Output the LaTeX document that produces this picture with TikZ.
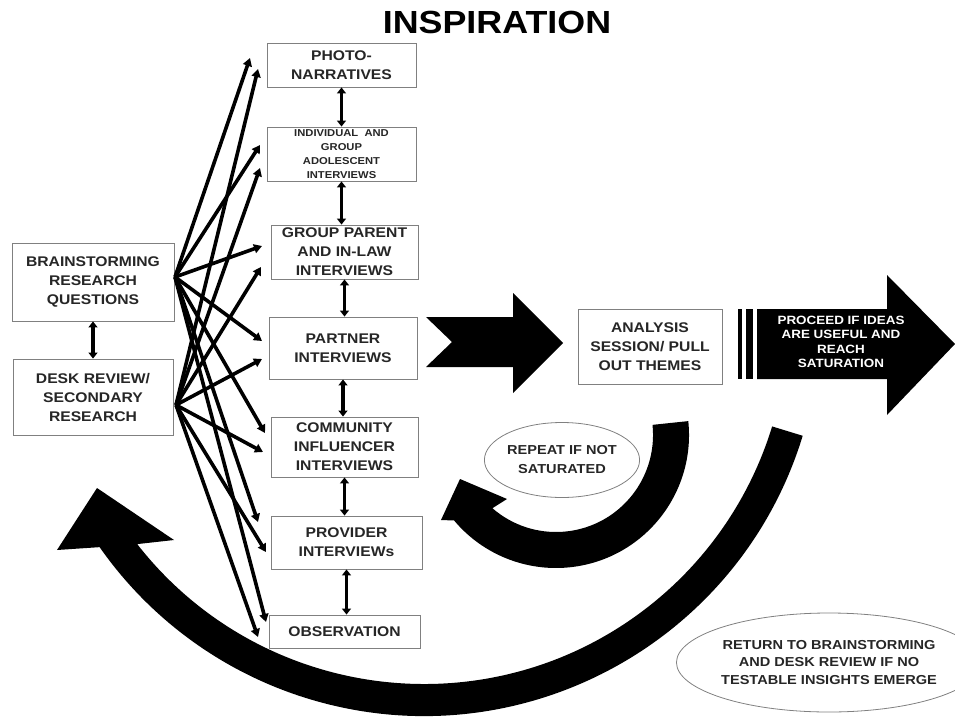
\documentclass[tikz,border=0pt]{standalone}
\usepackage{fontspec}
\setmainfont{Liberation Sans}[FakeStretch=1.12]
\usetikzlibrary{arrows.meta,shapes.geometric}
\begin{document}
\begin{tikzpicture}[x=1pt,y=-1pt,
  box/.style={draw=black!50, line width=0.9pt, fill=white, align=center, inner sep=0pt,
    text=black!85, font=\bfseries\fontsize{14}{19}\selectfont},
  fan/.style={line width=3.6pt, -{Triangle[length=8pt,width=9pt]}},
  dbl/.style={line width=3.4pt, {Triangle[length=6pt,width=9pt]}-{Triangle[length=6pt,width=9pt]}},
  oval/.style={ellipse, draw=black!50, line width=0.8pt, inner sep=0pt, align=center,
    text=black!85, font=\bfseries\fontsize{13}{19}\selectfont}
]
\useasboundingbox (0,0) rectangle (955,717);

% big return arc
\fill[black] (424,320) ++(17:396) arc[start angle=17, end angle=145, radius=396]
  -- (57,550) -- (97,488) -- (174,540) -- (137.2,544.1)
  arc[start angle=142, end angle=17, radius=364] -- cycle;

% small repeat arc
\fill[black] (556,435) ++(-6:133) arc[start angle=-6, end angle=140, radius=133]
  -- (441,520) -- (460,479) -- (507,499) -- (492.4,508.2)
  arc[start angle=131, end angle=-6, radius=97] -- cycle;

% title
\node[font=\bfseries\fontsize{32}{32}\selectfont] (title) at (497,22) {INSPIRATION};

% left boxes
\node[box, minimum width=162pt, minimum height=78pt] (brain) at (93,282) {BRAINSTORMING\\RESEARCH\\QUESTIONS};
\node[box, minimum width=160pt, minimum height=76pt] (desk) at (93,397) {DESK REVIEW/\\SECONDARY\\RESEARCH};

% middle column
\node[box, minimum width=149pt, minimum height=44pt] (photo) at (341.5,65) {PHOTO-\\NARRATIVES};
\node[box, minimum width=149pt, minimum height=54pt, font=\bfseries\fontsize{10}{14}\selectfont] (indiv) at (341.5,154) {INDIVIDUAL\ \ AND\\GROUP\\ADOLESCENT\\INTERVIEWS};
\node[box, minimum width=147pt, minimum height=54pt] (group) at (344.5,252) {GROUP PARENT\\AND IN-LAW\\INTERVIEWS};
\node[box, minimum width=148pt, minimum height=62pt] (partner) at (343,348) {PARTNER\\INTERVIEWS};
\node[box, minimum width=147pt, minimum height=60pt] (comm) at (344.5,447) {COMMUNITY\\INFLUENCER\\INTERVIEWS};
\node[box, minimum width=151pt, minimum height=53pt] (prov) at (346.5,542.5) {PROVIDER\\INTERVIEWs};
\node[box, minimum width=151pt, minimum height=33pt] (obs) at (344.5,631.5) {OBSERVATION};

% analysis box
\node[box, minimum width=144pt, minimum height=75pt] (anal) at (650,346.5) {ANALYSIS\\SESSION/ PULL\\OUT THEMES};

% double arrows
\draw[dbl] (brain.south) -- (desk.north);
\draw[dbl] (photo.south) -- (photo.south |- indiv.north);
\draw[dbl] (indiv.south) -- (indiv.south |- group.north);
\draw[dbl] (group.south) -- (group.south |- partner.north);
\draw[dbl] (partner.south) -- (partner.south |- comm.north);
\draw[dbl] (comm.south) -- (comm.south |- prov.north);
\draw[dbl] (prov.south) -- (prov.south |- obs.north);

% fan of arrows
\coordinate (bs) at (175,277);
\coordinate (ds) at (176,405);
\coordinate (t1a) at (250,58);  \coordinate (t1b) at (258,69);
\coordinate (t2a) at (260,145); \coordinate (t2b) at (260,168);
\coordinate (t3a) at (262,246); \coordinate (t3b) at (261,267);
\coordinate (t4a) at (262,341); \coordinate (t4b) at (262,359);
\coordinate (t5a) at (265,433); \coordinate (t5b) at (263,452);
\coordinate (t6a) at (258,522); \coordinate (t6b) at (266,552);
\coordinate (t7a) at (266,622); \coordinate (t7b) at (258,637);
\foreach \t in {1,...,7}{
  \draw[fan] (bs) -- (t\t a);
  \draw[fan] (ds) -- (t\t b);
}

% big block arrow to analysis
\fill[black] (426,317) -- (513,317) -- (513,293) -- (563,343) -- (513,393) -- (513,367) -- (426,367) -- (452,342) -- cycle;

% proceed arrow
\fill[black] (738,309) rectangle (742,379);
\fill[black] (746,309) rectangle (753,379);
\fill[black] (757,309) -- (887,309) -- (887,275) -- (955,344) -- (887,415) -- (887,379) -- (757,379) -- cycle;
\node[text=white, align=center, font=\bfseries\fontsize{12}{14.5}\selectfont] (proc) at (841,342) {PROCEED IF IDEAS\\ARE USEFUL AND\\REACH\\SATURATION};

% ellipses
\node[oval, minimum width=122pt, minimum height=75pt] (rep) at (562,460) {REPEAT IF NOT\\SATURATED};
\node[oval, minimum width=250pt, minimum height=99pt, font=\bfseries\fontsize{13}{17.5}\selectfont] (ret) at (829,662.5) {RETURN TO BRAINSTORMING\\AND DESK REVIEW IF NO\\TESTABLE INSIGHTS EMERGE};
\end{tikzpicture}
\end{document}
